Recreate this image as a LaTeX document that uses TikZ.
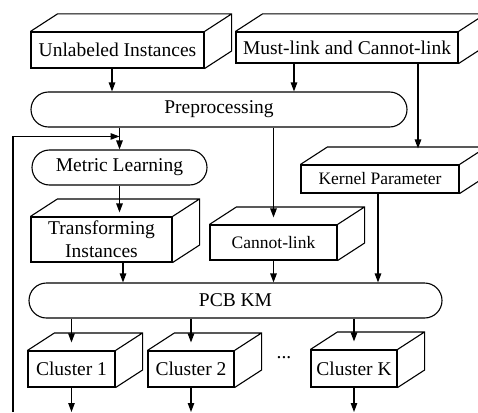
\documentclass[tikz,border=0pt]{standalone}
\usepackage{fontspec}
\setmainfont{Liberation Serif}
\usetikzlibrary{shapes.misc,arrows.meta}

\tikzset{
  cube/.style={draw, inner sep=0pt, align=center},
  pill/.style={draw, rounded rectangle, inner sep=0pt},
  arr/.style={-{Triangle[length=9pt,width=6.5pt]}},
  smalltext/.style={font=\fontsize{17.5}{21}\selectfont}
}

\begin{document}
\begin{tikzpicture}[x=1pt, y=-1pt, line width=1.1pt,
  font=\fontsize{19.5}{23}\selectfont]
\clip (0,0) rectangle (478,412);

% input boxes
\node[cube, minimum width=173pt, minimum height=36pt] (unlab) at (117.5,50) {Unlabeled Instances};
\node[cube, minimum width=222pt, minimum height=31pt] (must) at (347,47.5) {Must-link and Cannot-link};

% processing steps
\node[pill, minimum width=376pt, minimum height=35pt] (prep) at (219,109.5) {Preprocessing};
\node[pill, minimum width=175pt, minimum height=35pt] (metric) at (119.5,167.5) {Metric Learning};
\node[cube, minimum width=141pt, minimum height=45pt] (trans) at (101.5,239.5) {Transforming\\Instances};
\node[cube, smalltext, minimum width=127pt, minimum height=35pt] (cannot) at (273.5,242.5) {Cannot-link};
\node[cube, smalltext, minimum width=158pt, minimum height=28pt] (kernel) at (380,179) {Kernel Parameter};
\node[pill, minimum width=413pt, minimum height=35pt] (pcb) at (235.5,300.5) {PCB KM};

% clusters
\node[cube, minimum width=87pt, minimum height=36pt] (clu1) at (71.5,369) {Cluster 1};
\node[cube, minimum width=86pt, minimum height=36pt] (clu2) at (191,369) {Cluster 2};
\node[cube, minimum width=86pt, minimum height=37pt] (cluK) at (354,368.5) {Cluster K};
\node[anchor=base] (dots) at (284,358) {...};

% top and side faces of the boxes
\foreach \n in {unlab,must,trans,cannot,kernel,clu1,clu2,cluK}
  \draw (\n.north west) -- ++(27pt,17.5pt) -- ([shift={(27pt,17.5pt)}]\n.north east)
        -- ([shift={(27pt,17.5pt)}]\n.south east) -- (\n.south east)
        (\n.north east) -- ++(27pt,17.5pt);

% free ends
\coordinate (fbin) at (13,412);
\coordinate (out1) at (72,412);
\coordinate (out2) at (192,412);
\coordinate (outK) at (354,412);

% connectors
\draw[arr] ([xshift=-5.5pt]unlab.south) -- ([xshift=-5.5pt]unlab.south |- prep.north);
\draw[arr] ([xshift=-53pt]must.south) -- ([xshift=-53pt]must.south |- prep.north);
\draw[arr] ([xshift=71pt]must.south) -- ([xshift=71pt,yshift=16pt]must.south |- kernel.north);
\draw[arr] (prep.south -| metric.north) -- (metric.north);
\draw[arr] (fbin) |- ([yshift=13pt]metric.north);
\draw[arr] (prep.south -| cannot.north) -- ([yshift=7pt]cannot.north);
\draw[arr] (metric.south) -- ([yshift=4pt]metric.south |- trans.north);
\draw[arr] ([xshift=21.5pt]trans.south) -- ([xshift=21.5pt]trans.south |- pcb.north);
\draw[arr] (cannot.south) -- (cannot.south |- pcb.north);
\draw[arr] ([xshift=-2pt]kernel.south) -- ([xshift=-2pt]kernel.south |- pcb.north);
\foreach \n in {clu1,clu2,cluK}
  \draw[arr] (pcb.south -| \n.north) -- ([yshift=8pt]\n.north);
\draw[arr] (clu1.south) -- (clu1.south |- out1);
\draw[arr] (clu2.south) -- (clu2.south |- out2);
\draw[arr] (cluK.south) -- (cluK.south |- outK);
\end{tikzpicture}
\end{document}
